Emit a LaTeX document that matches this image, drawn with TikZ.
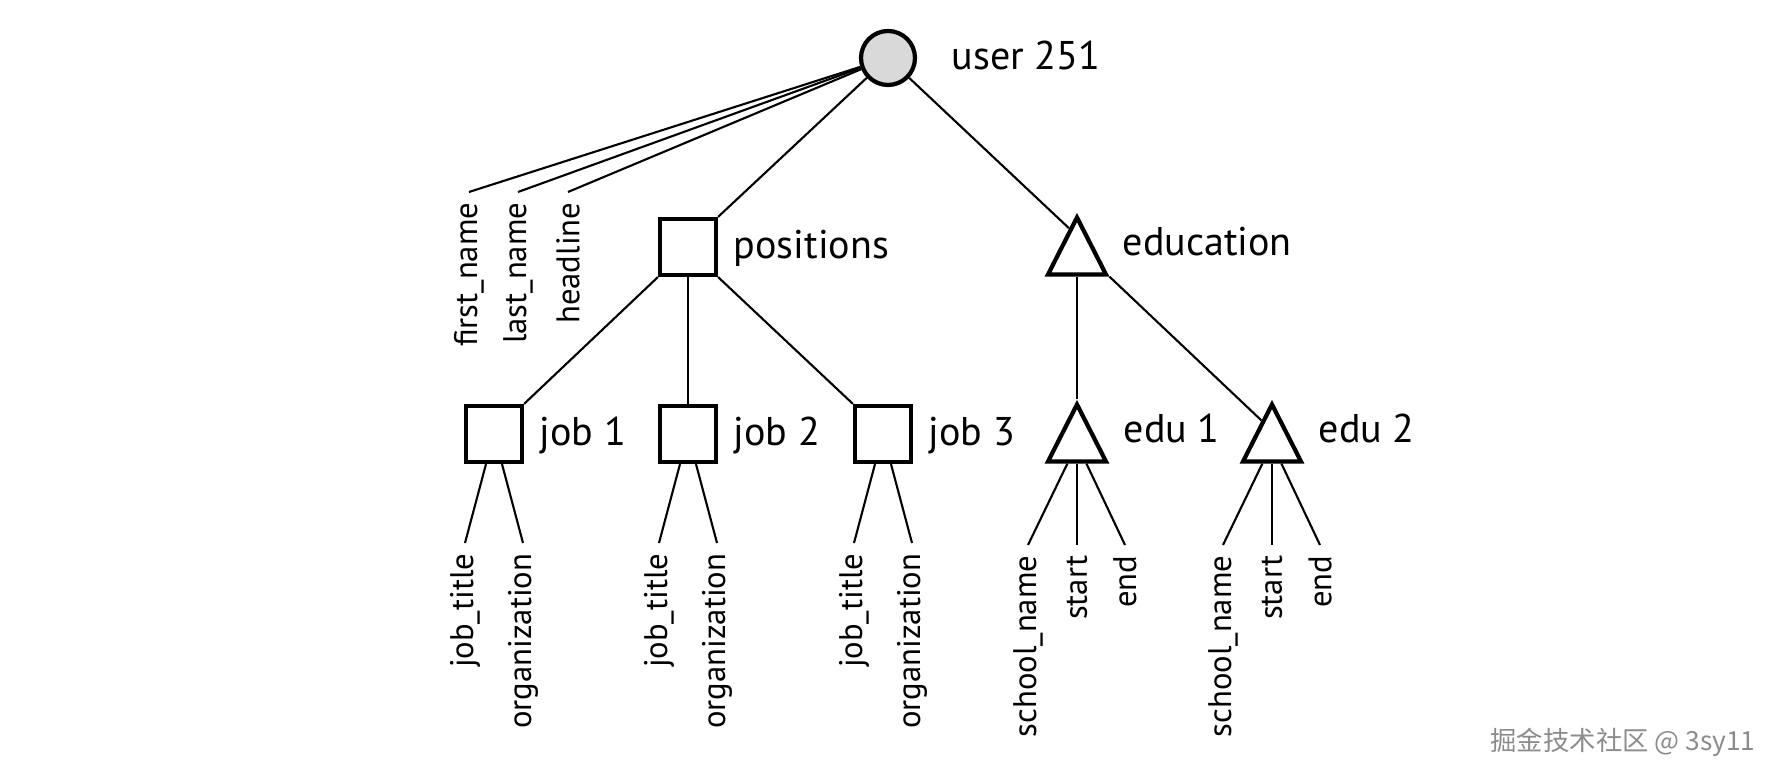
\documentclass[tikz,border=0pt]{standalone}
\usepackage{fontspec}
\setmainfont{PT Sans}
\newfontfamily\cjkfont{Noto Sans CJK SC}
\usetikzlibrary{positioning, calc, shapes.geometric}

\begin{document}
\begin{tikzpicture}[x=1mm, y=1mm,
  root/.style={circle, draw, line width=1.2pt, fill=black!15, minimum size=5.4mm, inner sep=0},
  rec/.style={rectangle, draw, line width=1.2pt, minimum size=5.6mm, inner sep=0},
  tri/.style={isosceles triangle, isosceles triangle stretches, shape border rotate=90, draw, line width=1.2pt, minimum width=5.8mm, minimum height=5.7mm, inner sep=0, anchor=apex},
  lbl/.style={font=\fontsize{11.4}{13}\selectfont, inner sep=0, text height=2.3mm, text depth=0pt},
  attr/.style={font=\fontsize{9.3}{11}\selectfont, rotate=90, anchor=east, inner xsep=1mm, inner ysep=0},
  link/.style={line width=0.6pt}
]
\useasboundingbox (0,0) rectangle (177.2,78);

% root and its fields
\node[root] (user) at (88.8,72.2) {};
\node[lbl, right=3.4mm of user] (userlbl) {user 251};
\node[attr] (fname) at (46.9,58.8) {first\_name};
\node[attr] (lname) at (51.8,58.8) {last\_name};
\node[attr] (headline) at (56.8,58.8) {headline};

% second level
\node[rec] (positions) at (68.8,53.3) {};
\node[lbl, right=1.5mm of positions] (poslbl) {positions};
\node[tri] (education) at (107.7,56.8) {};
\coordinate (edumid) at ($(education.apex)!.5!(education.lower side)$);
\node[lbl, right=4.5mm of edumid] (edulbl) {education};

% jobs
\node[rec] (job1) at (49.4,34.6) {};
\node[rec] (job2) at (68.8,34.6) {};
\node[rec] (job3) at (88.3,34.6) {};
\node[lbl, right=1.5mm of job1] (job1lbl) {job 1};
\node[lbl, right=1.5mm of job2] (job2lbl) {job 2};
\node[lbl, right=1.5mm of job3] (job3lbl) {job 3};
\node[attr] (title1) at (46.5,23.7) {job\_title};
\node[attr] (org1) at (52.3,23.7) {organization};
\node[attr] (title2) at (65.9,23.7) {job\_title};
\node[attr] (org2) at (71.7,23.7) {organization};
\node[attr] (title3) at (85.4,23.7) {job\_title};
\node[attr] (org3) at (91.2,23.7) {organization};

% education entries
\node[tri] (edu1) at (107.7,38.1) {};
\node[tri] (edu2) at (127.2,38.1) {};
\coordinate (edu1mid) at ($(edu1.apex)!.5!(edu1.lower side)$);
\coordinate (edu2mid) at ($(edu2.apex)!.5!(edu2.lower side)$);
\node[lbl, right=4.6mm of edu1mid] (edu1lbl) {edu 1};
\node[lbl, right=4.6mm of edu2mid] (edu2lbl) {edu 2};
\node[attr] (school1) at (102.8,23.5) {school\_name};
\node[attr] (start1) at (107.7,23.5) {start};
\node[attr] (end1) at (112.5,23.5) {end};
\node[attr] (school2) at (122.3,23.5) {school\_name};
\node[attr] (start2) at (127.2,23.5) {start};
\node[attr] (end2) at (132.0,23.5) {end};

\node[font=\cjkfont\fontsize{7.5}{9}\selectfont, text=black!45] (mark) at (162.3,3.8) {掘金技术社区 @ 3sy11};

\draw[link] (user) -- (fname.east);
\draw[link] (user) -- (lname.east);
\draw[link] (user) -- (headline.east);
\draw[link] (user) -- (positions.north east);
\draw[link] (user) -- ($(education.apex)!.25!(education.left corner)$);

\draw[link] (positions.south west) -- (job1.north east);
\draw[link] (positions) -- (job2);
\draw[link] (positions.south east) -- (job3.north west);
\draw[link] (education) -- (edu1);
\draw[link] (education.right corner) -- ($(edu2.apex)!.33!(edu2.left corner)$);

\draw[link] (job1) -- (title1.east);
\draw[link] (job1) -- (org1.east);
\draw[link] (job2) -- (title2.east);
\draw[link] (job2) -- (org2.east);
\draw[link] (job3) -- (title3.east);
\draw[link] (job3) -- (org3.east);

\draw[link] (edu1) -- (school1.east);
\draw[link] (edu1) -- (start1.east);
\draw[link] (edu1) -- (end1.east);
\draw[link] (edu2) -- (school2.east);
\draw[link] (edu2) -- (start2.east);
\draw[link] (edu2) -- (end2.east);
\end{tikzpicture}
\end{document}
